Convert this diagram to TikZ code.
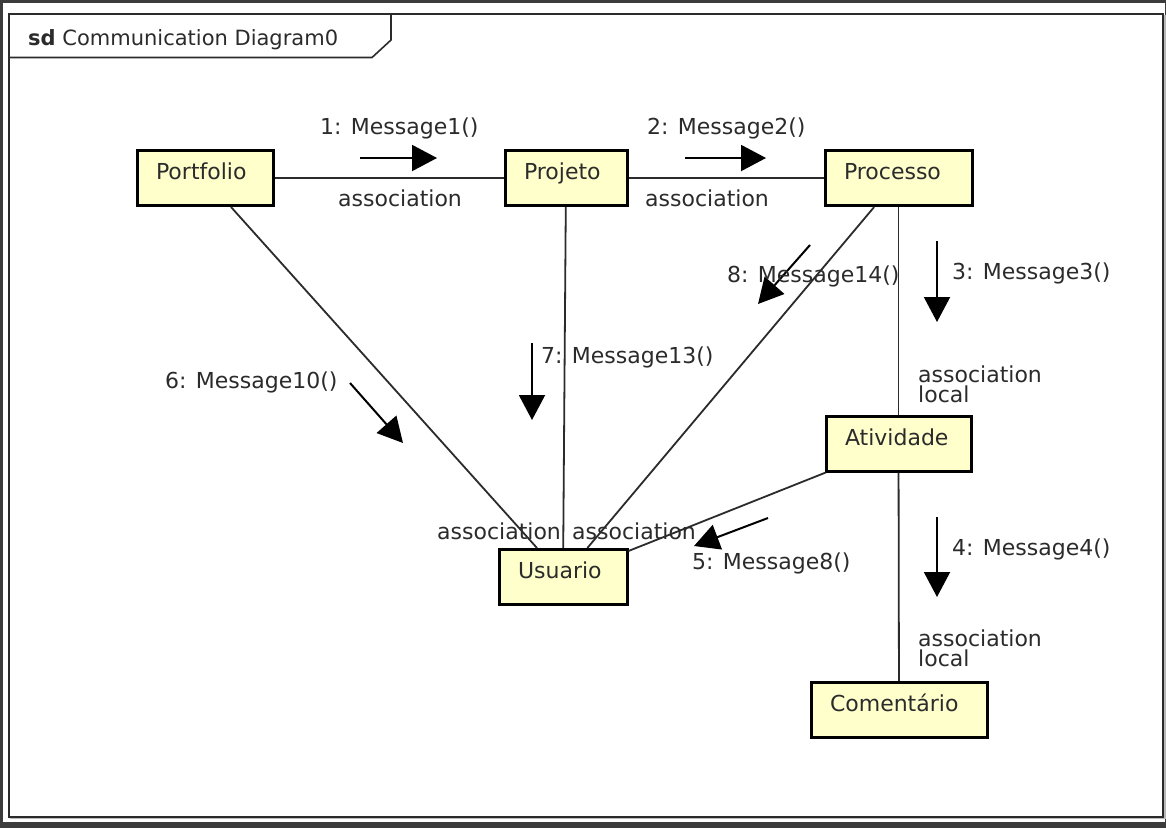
\documentclass[tikz,border=0pt]{standalone}
\usepackage{fontspec}
\setmainfont{DejaVu Sans}
\usetikzlibrary{arrows.meta,positioning,calc}
\definecolor{Ink}{HTML}{2B2B2B}
\definecolor{Note}{HTML}{FFFFCC}
\definecolor{Rim}{HTML}{3C3C3C}

\tikzset{
  obj/.style={draw=black,fill=Note,line width=3pt,align=left,text width=#1,inner xsep=19pt,inner ysep=0pt,minimum height=55pt,text height=16pt,text depth=13pt,font=\fontsize{22}{24}\selectfont,text=Ink},
  assoc/.style={draw=Ink,line width=1.8pt},
  msg/.style={draw=black,line width=2pt,-{Triangle[length=25pt,width=26pt]}},
  lbl/.style={anchor=base west,inner sep=0pt,font=\fontsize{22}{20}\selectfont,text=Ink,align=left},
}

\begin{document}
\begin{tikzpicture}[x=1pt,y=-1pt]
\useasboundingbox (0,0) rectangle (1166,828);
\fill[Rim] (0,0) rectangle (1166,828);
\fill[white] (3,3) rectangle (1165,822);
% frame and title
\draw[gray!55,line width=1.5pt] (10,818.5) -- (1165,818.5) -- (1165,15);
\draw[Ink,line width=2pt] (8.5,13.5) rectangle (1163,816.5);
\draw[Ink,line width=1.6pt] (8.5,57.5) -- (372,57.5) -- (391,40) -- (391,13.5);
\node[anchor=base west,inner sep=0pt,font=\fontsize{21}{24}\selectfont,text=Ink] (title) at (28,45) {\textbf{sd} Communication Diagram0};
% lifelines
\node[obj=98pt] (portfolio) at (205,178) {Portfolio};
\node[obj=84pt] (projeto) at (566,178) {Projeto};
\node[obj=109pt] (processo) at (898.5,178) {Processo};
\node[obj=107pt] (atividade) at (898.5,443.5) {Atividade};
\node[obj=90pt] (usuario) at (563,577) {Usuario};
\node[obj=138pt] (comentario) at (899,710) {Comentário};
% links
\draw[assoc] (portfolio) -- (projeto);
\draw[assoc] (projeto) -- (processo);
\draw[assoc] (portfolio) -- (usuario);
\draw[assoc] (projeto) -- (usuario);
\draw[assoc] (processo) -- (usuario);
\draw[assoc] (processo) -- (atividade);
\draw[assoc] (atividade) -- (usuario);
\draw[assoc] (atividade) -- (comentario);
\node[lbl] (as1) at (338,206) {association};
\node[lbl] (as2) at (645,206) {association};
\node[lbl] (as3) at (437,539) {association};
\node[lbl] (as4) at (572,539) {association};
\node[lbl] (as5) at (918,402) {association\\local};
\node[lbl] (as6) at (918,666) {association\\local};
% messages
\foreach \i/\sx/\sy/\tx/\ty in {1/360/158/437/158,2/685/158/766/158,3/937/241/937/322,4/937/517/937/597,5/768/518/694/546,6/350/383/403/443,7/532/343/532/420,8/810/245/758/304} {\coordinate (s\i) at (\sx,\sy); \coordinate (t\i) at (\tx,\ty); \draw[msg] (s\i) -- (t\i);}
\node[lbl] (m1) at (320,134) {1: Message1()};
\node[lbl] (m2) at (647,134) {2: Message2()};
\node[lbl] (m3) at (952,279) {3: Message3()};
\node[lbl] (m4) at (952,555) {4: Message4()};
\node[lbl] (m5) at (692,569) {5: Message8()};
\node[lbl] (m6) at (165,388) {6: Message10()};
\node[lbl] (m7) at (541,363) {7: Message13()};
\node[lbl] (m8) at (727,282) {8: Message14()};
\end{tikzpicture}
\end{document}
